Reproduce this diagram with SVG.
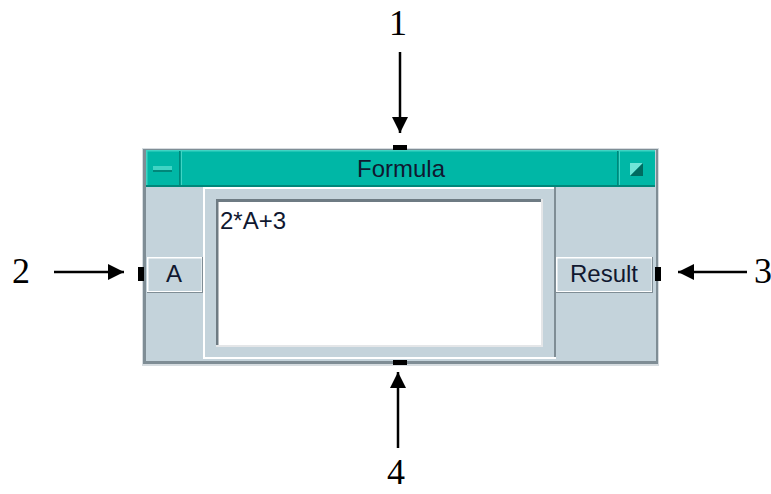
<svg xmlns="http://www.w3.org/2000/svg" width="771" height="494" viewBox="0 0 771 494">
  <defs>
    <style>
      .num { font-family: "Liberation Serif", "DejaVu Serif", serif; font-size: 36px; fill: #000; }
      .lbl { font-family: "Liberation Sans", Arial, sans-serif; font-size: 24px; fill: #101830; }
      .panel { fill: #C4D3DB; }
      .dark { fill: #7F8D95; }
      .light { fill: #FFFFFF; }
      .port { fill: #000; }
      .conn { stroke: #000; stroke-width: 2.5; fill: none; }
      .teal { fill: #00B7A6; }
      .tealdark { fill: #00877A; }
      .teallight { fill: #40D4C4; }
    </style>
    <marker id="ah" viewBox="0 0 16 16" refX="16" refY="8" markerWidth="16" markerHeight="16" markerUnits="userSpaceOnUse" orient="auto">
      <path d="M0,0 L16,8 L0,16 Z" fill="#000"/>
    </marker>
  </defs>

  <g id="formula-node">
    <!-- outer frame -->
    <rect x="142" y="148" width="517" height="218" fill="#D6DCE0"/>
    <rect x="143" y="149" width="515" height="215" class="dark"/>
    <rect x="146" y="150" width="510" height="211" class="panel"/>
    <!-- title bar -->
    <rect x="146" y="150" width="509" height="37" class="teal"/>
    <rect x="146" y="150" width="509" height="1.5" class="teallight"/>
    <rect x="146" y="185" width="509" height="2" class="tealdark"/>
    <!-- minimize button -->
    <rect x="179" y="151" width="1.5" height="34" class="tealdark"/>
    <rect x="181" y="151" width="1" height="34" class="teallight"/>
    <rect x="146" y="151" width="1.5" height="34" class="teallight"/>
    <rect x="153" y="166" width="19" height="6" class="teallight"/>
    <rect x="153" y="170" width="19" height="2" class="tealdark"/>
    <!-- maximize button -->
    <rect x="617" y="151" width="1.5" height="34" class="tealdark"/>
    <rect x="619" y="151" width="1" height="34" class="teallight"/>
    <path d="M630,163 L643,163 L630,176 Z" fill="#6FE6D8"/>
    <path d="M643,163 L643,176 L630,176 Z" fill="#006B60"/>
    <text x="401" y="177" text-anchor="middle" class="lbl">Formula</text>
    <!-- middle raised panel -->
    <rect x="203" y="187" width="353" height="172" class="light"/>
    <rect x="554" y="187" width="2" height="172" class="dark"/>
    <rect x="205" y="189" width="349" height="168" class="panel"/>
    <rect x="203" y="357" width="353" height="2" class="light"/>
    <!-- bottom frame edge -->
    <rect x="146" y="359" width="510" height="2" class="panel"/>
    <!-- text area -->
    <rect x="216" y="199" width="327" height="148" fill="#E4E6E8"/>
    <rect x="216" y="199" width="325" height="146" fill="#6E7B83"/>
    <rect x="218.5" y="202" width="322.5" height="143" fill="#FFFFFF"/>
    <text x="220" y="229" class="lbl">2*A+3</text>
  </g>

  <g id="input-A">
    <rect x="147" y="257" width="56" height="36" class="dark"/>
    <rect x="147" y="257" width="55" height="35" class="light"/>
    <rect x="148.5" y="258.5" width="53" height="32.5" class="panel"/>
    <text x="174" y="282" text-anchor="middle" class="lbl">A</text>
  </g>

  <g id="output-Result">
    <rect x="556" y="257" width="97" height="36" class="dark"/>
    <rect x="556" y="257" width="96" height="35" class="light"/>
    <rect x="557.5" y="258.5" width="94" height="32.5" class="panel"/>
    <text x="604" y="282" text-anchor="middle" class="lbl">Result</text>
  </g>

  <g id="ports">
    <rect x="393" y="145" width="14" height="5" class="port"/>
    <rect x="393" y="360" width="14" height="5" class="port"/>
    <rect x="138" y="267" width="6" height="14" class="port"/>
    <rect x="655" y="267" width="6" height="14" class="port"/>
  </g>

  <g id="connectors">
    <line x1="400" y1="52" x2="400" y2="133" class="conn" marker-end="url(#ah)"/>
    <line x1="54" y1="272" x2="124" y2="272" class="conn" marker-end="url(#ah)"/>
    <line x1="747" y1="272" x2="678" y2="272" class="conn" marker-end="url(#ah)"/>
    <line x1="398" y1="448" x2="398" y2="372" class="conn" marker-end="url(#ah)"/>
  </g>

  <g id="labels">
    <text x="398" y="35" text-anchor="middle" class="num">1</text>
    <text x="21" y="283" text-anchor="middle" class="num">2</text>
    <text x="763" y="283" text-anchor="middle" class="num">3</text>
    <text x="396" y="484" text-anchor="middle" class="num">4</text>
  </g>
</svg>
